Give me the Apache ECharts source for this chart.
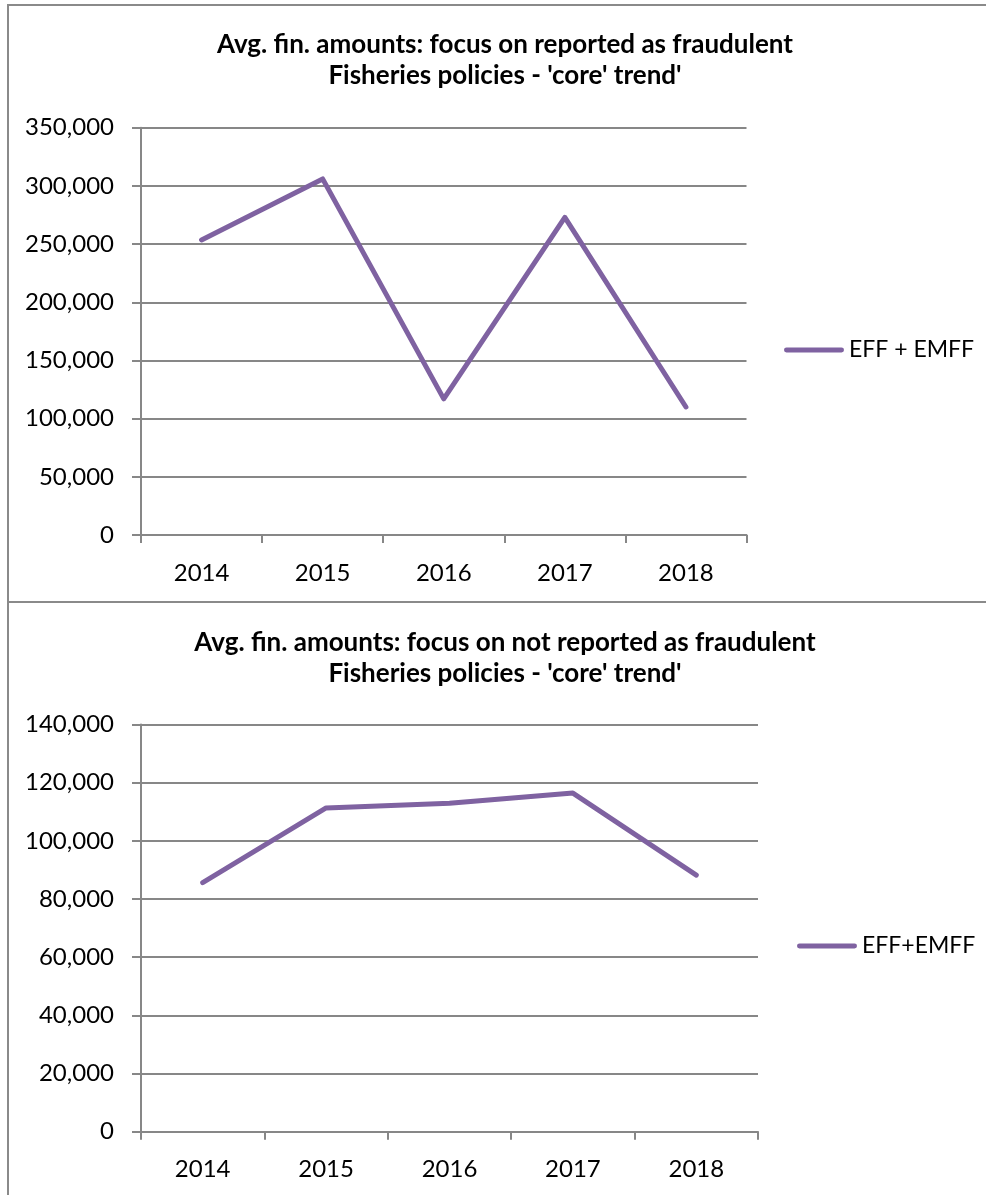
<!DOCTYPE html>
<html>
<head>
<meta charset="utf-8">
<script src="https://cdn.jsdelivr.net/npm/echarts@6/dist/echarts.min.js"></script>
<style>
html,body{margin:0;padding:0;background:#fff;}
#chart{width:986px;height:1195px;}
</style>
</head>
<body>
<div id="chart"></div>
<script>
// ---- data ----
const years = ['2014', '2015', '2016', '2017', '2018'];
const reportedFraud = [253500, 306000, 117000, 273000, 110000];
const notReportedFraud = [85600, 111300, 112900, 116400, 88200];
const topTitle = "Avg. fin. amounts: focus on reported as fraudulent\nFisheries policies - 'core' trend'";
const bottomTitle = "Avg. fin. amounts: focus on not reported as fraudulent\nFisheries policies - 'core' trend'";
const topSeriesName = 'EFF + EMFF';
const bottomSeriesName = 'EFF+EMFF';
const topAxis = { min: 0, max: 350000, interval: 50000 };
const bottomAxis = { min: 0, max: 140000, interval: 20000 };

// ---- styles ----
const FONT = 'Lato, "Open Sans", sans-serif';
const GRAY = '#878787';
const PURPLE = '#7f62a1';
const fmt = v => v.toLocaleString('en-US');

function xAxis(gridIndex) {
  return {
    type: 'category', gridIndex, data: years, boundaryGap: true,
    axisLine: { lineStyle: { color: GRAY, width: 2 } },
    axisTick: { show: true, length: 8, inside: false, lineStyle: { color: GRAY, width: 2 }, alignWithLabel: false },
    axisLabel: { color: '#000', fontFamily: FONT, fontSize: 24, margin: 26 },
    splitLine: { show: false }
  };
}
function yAxis(gridIndex, cfg) {
  return {
    type: 'value', gridIndex, min: cfg.min, max: cfg.max, interval: cfg.interval,
    axisLine: { show: true, lineStyle: { color: GRAY, width: 2 } },
    axisTick: { show: true, length: 9, lineStyle: { color: GRAY, width: 2 } },
    axisLabel: { color: '#000', fontFamily: FONT, fontSize: 24, margin: 27, formatter: fmt },
    splitLine: { show: true, lineStyle: { color: GRAY, width: 2 } }
  };
}
function series(name, data, idx) {
  return {
    name, type: 'line', data, xAxisIndex: idx, yAxisIndex: idx,
    symbol: 'none', smooth: false,
    lineStyle: { color: PURPLE, width: 5, cap: 'round', join: 'round' },
    itemStyle: { color: PURPLE }
  };
}
function legend(name, left, centerY) {
  return {
    data: [name], left, top: centerY - 14, orient: 'vertical', padding: 0,
    icon: 'path://M2,0 L58,0 A2.5,2.5 0 0 1 58,5 L2,5 A2.5,2.5 0 0 1 2,0 Z',
    itemWidth: 60, itemHeight: 6, itemGap: 0,
    textStyle: { color: '#000', fontFamily: FONT, fontSize: 23, padding: [0, 0, 0, 0], lineHeight: 28 },
    itemStyle: { color: PURPLE }
  };
}
function title(text, top) {
  return {
    text, left: 505, top, textAlign: 'center', padding: 0,
    textStyle: { color: '#000', fontFamily: FONT, fontWeight: 'bold', fontSize: 26, lineHeight: 31 }
  };
}
const frameStyle = { stroke: '#8a8a8a', lineWidth: 2 };

const option = {
  animation: false,
  backgroundColor: '#fff',
  title: [title(topTitle, 29), title(bottomTitle, 627)],
  legend: [legend(topSeriesName, 784, 350), legend(bottomSeriesName, 797, 946)],
  grid: [
    { left: 141, top: 127.7, width: 605.5, height: 407.3, containLabel: false },
    { left: 141, top: 724.4, width: 617, height: 407.3, containLabel: false }
  ],
  xAxis: [xAxis(0), xAxis(1)],
  yAxis: [yAxis(0, topAxis), yAxis(1, bottomAxis)],
  series: [series(topSeriesName, reportedFraud, 0), series(bottomSeriesName, notReportedFraud, 1)],
  graphic: [
    { type: 'line', shape: { x1: 7, y1: 5, x2: 986, y2: 5 }, style: frameStyle, silent: true },
    { type: 'line', shape: { x1: 8, y1: 4, x2: 8, y2: 1195 }, style: frameStyle, silent: true },
    { type: 'line', shape: { x1: 7, y1: 602, x2: 986, y2: 602 }, style: frameStyle, silent: true }
  ]
};
const chart = echarts.init(document.getElementById('chart'), null, { renderer: 'canvas' });
chart.setOption(option);
</script>
</body>
</html>
